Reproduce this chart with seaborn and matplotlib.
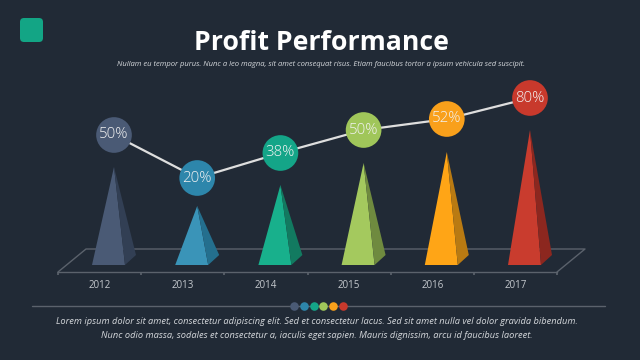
import numpy as np
import pandas as pd
import matplotlib
matplotlib.use('Agg')
import matplotlib.pyplot as plt
import seaborn as sns
from matplotlib.patches import Polygon, FancyBboxPatch

years = ['2012', '2013', '2014', '2015', '2016', '2017']
percents = [50, 20, 38, 50, 52, 80]
bubble_heights = [130, 87, 112, 135, 146, 167]
pyramid_heights = [98, 59, 80, 102, 113, 135]
front_colors = ['#4a5a75', '#3a94b8', '#18b08c', '#a4c95e', '#ffa516', '#c93c2e']
side_colors = ['#323f54', '#246f8e', '#127a60', '#6f8a3f', '#b97a12', '#8c271f']
bubble_colors = ['#4a5a75', '#2d86ab', '#14a588', '#a0c65a', '#f9a01b', '#c8392c']

BG = '#212a36'
sns.set_theme(style='dark')
plt.rcParams['font.family'] = ['Open Sans', 'DejaVu Sans']

fig = plt.figure(figsize=(6.4, 3.6), dpi=100, facecolor=BG)

# background layer in pixel coordinates
deco = fig.add_axes([0, 0, 1, 1], facecolor=BG)
deco.set_xlim(0, 640)
deco.set_ylim(360, 0)
deco.axis('off')
deco.add_patch(FancyBboxPatch((23, 21), 17, 18, boxstyle='round,pad=3,rounding_size=4',
                              fc='#13a585', ec='none'))
deco.plot([58, 86, 585, 557], [272, 249, 249, 272], color='#5b626c', lw=1)
deco.plot([32, 605], [306, 306], color='#5b626c', lw=1)
for x, c in zip(np.linspace(294, 343, 6), bubble_colors):
    deco.scatter(x, 306, s=38, color=c, linewidths=0, zorder=3)

deco.text(321, 42.5, 'Profit Performance', color='white', fontsize=19.2, fontweight='bold',
          ha='center', va='center')
deco.text(321, 64, 'Nullam eu tempor purus. Nunc a leo magna, sit amet consequat risus. '
          'Etiam faucibus tortor a ipsum vehicula sed suscipit.',
          color='#d5d8dc', fontsize=5.5, style='italic', ha='center', va='center')
deco.text(317, 321, 'Lorem ipsum dolor sit amet, consectetur adipiscing elit. Sed et consectetur lacus. '
          'Sed sit amet nulla vel dolor gravida bibendum.',
          color='#d5d8dc', fontsize=6.7, style='italic', ha='center', va='center')
deco.text(317, 335, 'Nunc odio massa, sodales et consectetur a, iaculis eget sapien. '
          'Mauris dignissim, arcu id faucibus laoreet.',
          color='#d5d8dc', fontsize=6.7, style='italic', ha='center', va='center')

# floor front edge with the year axis
floor = fig.add_axes([58 / 640, (360 - 272) / 360, 499 / 640, 0.002], facecolor='none')
floor.set_xlim(0, 6)
floor.set_yticks([])
for s in ['top', 'left', 'right']:
    floor.spines[s].set_visible(False)
floor.spines['bottom'].set_color('#5b626c')
floor.spines['bottom'].set_linewidth(1)
floor.set_xticks(range(7), labels=[])
floor.set_xticks(np.arange(6) + 0.5, labels=years, minor=True)
floor.tick_params(axis='x', which='major', length=2, color='#5b626c', bottom=True)
floor.tick_params(axis='x', which='minor', length=0, pad=6, labelsize=7, labelcolor='#c4c8cd')

# chart layer: x = category index, y = height above pyramid base
ax = fig.add_axes([0, 0, 1, 1], facecolor='none')
ax.set_xlim(-114 / 83.2, (640 - 114) / 83.2)
ax.set_ylim(-95, 265)
ax.axis('off')

half_left = 22 / 83.2
half_right = 11 / 83.2
depth_x = 22 / 83.2
for i, h in enumerate(pyramid_heights):
    ax.add_patch(Polygon([(i - half_left, 0), (i, h), (i + half_right, 0)],
                         fc=front_colors[i], ec='none', zorder=2))
    ax.add_patch(Polygon([(i + half_right, 0), (i, h), (i + depth_x, 10)],
                         fc=side_colors[i], ec='none', zorder=2))

df = pd.DataFrame({'i': range(6), 'h': bubble_heights, 'year': years})
sns.lineplot(data=df, x='i', y='h', color='#dedede', lw=1.6, ax=ax, zorder=3, legend=False)
sns.scatterplot(data=df, x='i', y='h', hue='year', palette=bubble_colors, s=660,
                linewidth=0, ax=ax, zorder=4, legend=False)
ax.set_xlim(-114 / 83.2, (640 - 114) / 83.2)
ax.set_ylim(-95, 265)
for i, (h, p) in enumerate(zip(bubble_heights, percents)):
    ax.text(i, h, f'{p}%', color='#f2f2f2', fontsize=10.8, fontweight='light',
            ha='center', va='center', zorder=5)

fig.savefig('out.png', dpi=100, facecolor=BG)
